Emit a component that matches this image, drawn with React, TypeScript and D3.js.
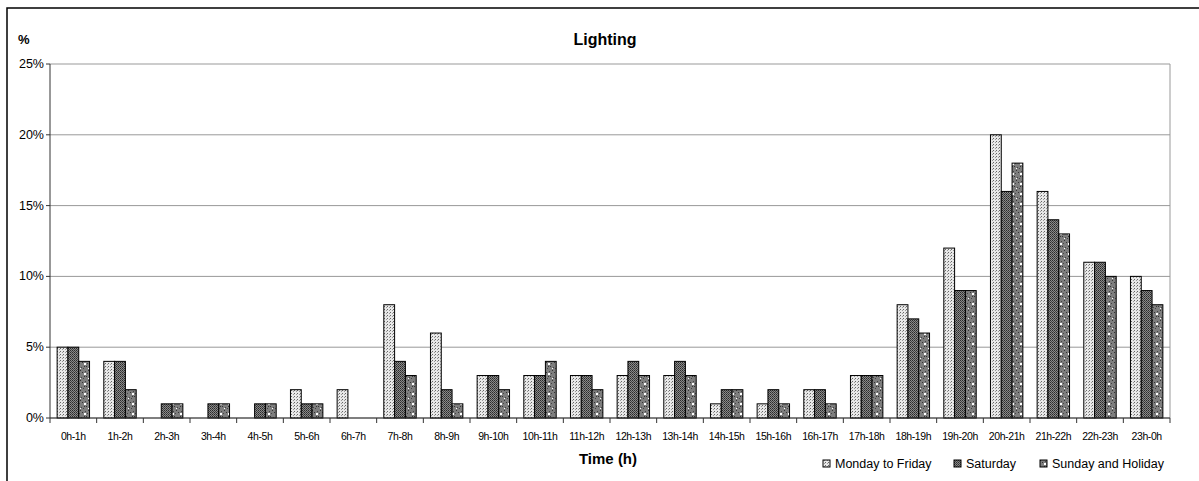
import * as d3 from "d3";

const hours = [
  "0h-1h", "1h-2h", "2h-3h", "3h-4h", "4h-5h", "5h-6h", "6h-7h", "7h-8h",
  "8h-9h", "9h-10h", "10h-11h", "11h-12h", "12h-13h", "13h-14h", "14h-15h", "15h-16h",
  "16h-17h", "17h-18h", "18h-19h", "19h-20h", "20h-21h", "21h-22h", "22h-23h", "23h-0h",
];
const weekday = [5, 4, 0, 0, 0, 2, 2, 8, 6, 3, 3, 3, 3, 3, 1, 1, 2, 3, 8, 12, 20, 16, 11, 10];
const saturday = [5, 4, 1, 1, 1, 1, 0, 4, 2, 3, 3, 3, 4, 4, 2, 2, 2, 3, 7, 9, 16, 14, 11, 9];
const sunday = [4, 2, 1, 1, 1, 1, 0, 3, 1, 2, 4, 2, 3, 3, 2, 1, 1, 3, 6, 9, 18, 13, 10, 8];
const seriesNames = ["Monday to Friday", "Saturday", "Sunday and Holiday"];
const yTicks = [0, 5, 10, 15, 20, 25];

const W = 1199;
const H = 481;
const m = { left: 50, right: 1170, top: 64, bottom: 418 };
const font = "'Liberation Sans', Arial, sans-serif";

export default function App() {
  const series = [weekday, saturday, sunday];
  const x = d3.scaleBand<string>().domain(hours).range([m.left, m.right]);
  const inner = d3.scaleBand<number>().domain([0, 1, 2]).range([0, x.bandwidth()]).paddingInner(0).paddingOuter(0.66);
  const y = d3.scaleLinear().domain([0, 25]).range([m.bottom, m.top]);
  const fills = ["url(#pWeek)", "url(#pSat)", "url(#pSun)"];
  const legendX = [835, 966, 1052];

  return (
    <svg width={W} height={H} style={{ position: "absolute", left: 0, top: 0 }} fontFamily={font}>
      <defs>
        <pattern id="pWeek" width="3" height="3" patternUnits="userSpaceOnUse">
          <rect width="3" height="3" fill="#e8e8e8" />
          <rect x="0" y="0" width="1" height="1" fill="#666" />
          <rect x="2" y="1" width="1" height="1" fill="#999" />
        </pattern>
        <pattern id="pSat" width="2" height="2" patternUnits="userSpaceOnUse">
          <rect width="2" height="2" fill="#8a8a8a" />
          <rect x="0" y="0" width="1" height="1" fill="#2a2a2a" />
          <rect x="1" y="1" width="1" height="1" fill="#444" />
        </pattern>
        <pattern id="pSun" width="8" height="10" patternUnits="userSpaceOnUse">
          <rect width="8" height="10" fill="#7e7e7e" />
          <rect x="0" y="0" width="1" height="1" fill="#333" />
          <rect x="2" y="2" width="1" height="1" fill="#333" />
          <rect x="4" y="6" width="1" height="1" fill="#333" />
          <rect x="6" y="6" width="1" height="1" fill="#333" />
          <rect x="1" y="7" width="1" height="1" fill="#444" />
          <rect x="5" y="1" width="1" height="1" fill="#444" />
          <rect x="3" y="8" width="1" height="1" fill="#444" />
          <rect x="7" y="3" width="1" height="1" fill="#444" />
          <rect x="4" y="3" width="2" height="2" fill="#fff" />
          <rect x="0" y="8" width="1" height="1" fill="#fff" />
        </pattern>
      </defs>
      <rect x={7} y={8} width={W + 10} height={H + 10} fill="#fff" stroke="#000" strokeWidth={1.5} />

      {/* grid */}
      {yTicks.map((t) => (
        <line key={t} x1={m.left} x2={m.right} y1={y(t)} y2={y(t)} stroke="#999" strokeWidth={1} />
      ))}
      <line x1={m.right} x2={m.right} y1={m.top} y2={m.bottom} stroke="#999" />

      {/* bars */}
      {series.map((vals, si) =>
        vals.map((v, i) =>
          v > 0 ? (
            <rect
              key={si + "-" + i}
              x={(x(hours[i]) ?? 0) + (inner(si) ?? 0)}
              y={y(v)}
              width={inner.bandwidth()}
              height={y(0) - y(v)}
              fill={fills[si]}
              stroke="#000"
              strokeWidth={1}
            />
          ) : null
        )
      )}

      {/* axes */}
      <line x1={m.left} x2={m.left} y1={m.top} y2={m.bottom} stroke="#333" />
      <line x1={m.left} x2={m.right} y1={m.bottom} y2={m.bottom} stroke="#333" />
      {yTicks.map((t) => (
        <g key={"yt" + t}>
          <line x1={m.left - 4} x2={m.left} y1={y(t)} y2={y(t)} stroke="#333" />
          <text x={m.left - 6} y={y(t) + 4} fontSize={12.5} textAnchor="end">{t + "%"}</text>
        </g>
      ))}
      {d3.range(hours.length + 1).map((i) => (
        <line key={"xt" + i} x1={m.left + i * x.step()} x2={m.left + i * x.step()} y1={m.bottom} y2={m.bottom + 5} stroke="#333" />
      ))}
      {hours.map((h) => (
        <text key={h} x={(x(h) ?? 0) + x.bandwidth() / 2} y={440} fontSize={10.5} textAnchor="middle" letterSpacing={-0.4}>{h}</text>
      ))}

      <text x={605} y={45} fontSize={16} fontWeight="bold" textAnchor="middle">Lighting</text>
      <text x={18} y={44} fontSize={13} fontWeight="bold">%</text>
      <text x={608} y={464} fontSize={15} fontWeight="bold" textAnchor="middle">Time (h)</text>

      {/* legend */}
      {seriesNames.map((n, i) => (
        <g key={n}>
          <rect x={legendX[i] - 12} y={460} width={7} height={7} fill={fills[i]} stroke="#000" />
          <text x={legendX[i]} y={468} fontSize={12.5}>{n}</text>
        </g>
      ))}
    </svg>
  );
}
